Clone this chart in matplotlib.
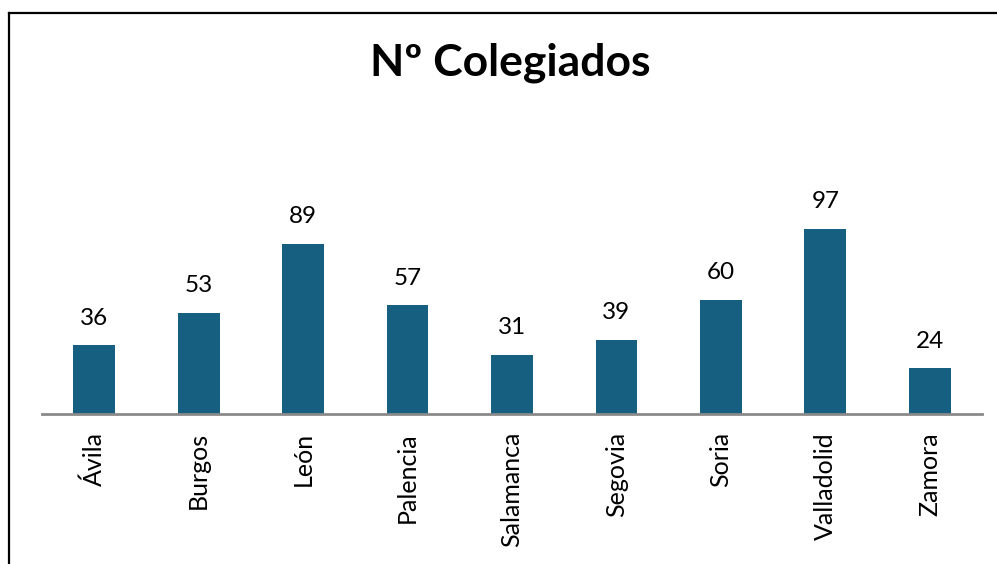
import matplotlib
matplotlib.use("Agg")
import matplotlib.pyplot as plt
from matplotlib.lines import Line2D

categories = ["Ávila", "Burgos", "León", "Palencia", "Salamanca", "Segovia", "Soria", "Valladolid", "Zamora"]
values = [36, 53, 89, 57, 31, 39, 60, 97, 24]
title = "Nº Colegiados"

W, H = 997, 564
fig = plt.figure(figsize=(W / 100, H / 100), dpi=100)
fig.patch.set_facecolor("white")

# axes in pixel coordinates
ax_left, ax_right = 42, 982
ax_bottom, ax_top = 414, 185
ax = fig.add_axes([ax_left / W, 1 - ax_bottom / H, (ax_right - ax_left) / W, (ax_bottom - ax_top) / H])

x = list(range(len(categories)))
bars = ax.bar(x, values, width=0.40, color="#175f80", zorder=2)
ax.set_xlim(-0.5, len(categories) - 0.5)
ax.set_ylim(0, 120)

for xi, v in zip(x, values):
    ax.annotate(str(v), (xi, v), xytext=(0, 12), textcoords="offset points",
                ha="center", va="bottom", fontsize=17.5, family="Lato", color="black")

for s in ["top", "right", "left"]:
    ax.spines[s].set_visible(False)
ax.spines["bottom"].set_color("#8a8a8a")
ax.spines["bottom"].set_linewidth(2)
ax.set_yticks([])
ax.set_xticks(x)
ax.set_xticklabels(categories, rotation=90, fontsize=18, family="Lato")
ax.tick_params(axis="x", length=0, pad=13)

fig.text(510 / W, 1 - 63 / H, title, ha="center", va="center", fontsize=32,
         fontweight="bold", family="Lato")

# outer border (left and top visible, rest cropped)
fig.add_artist(Line2D([9 / W, 9 / W], [0, 1 - 12.5 / H], transform=fig.transFigure, color="black", lw=1.6))
fig.add_artist(Line2D([9 / W, 1], [1 - 12.5 / H, 1 - 12.5 / H], transform=fig.transFigure, color="black", lw=1.6))

fig.savefig("out.png", dpi=100)
